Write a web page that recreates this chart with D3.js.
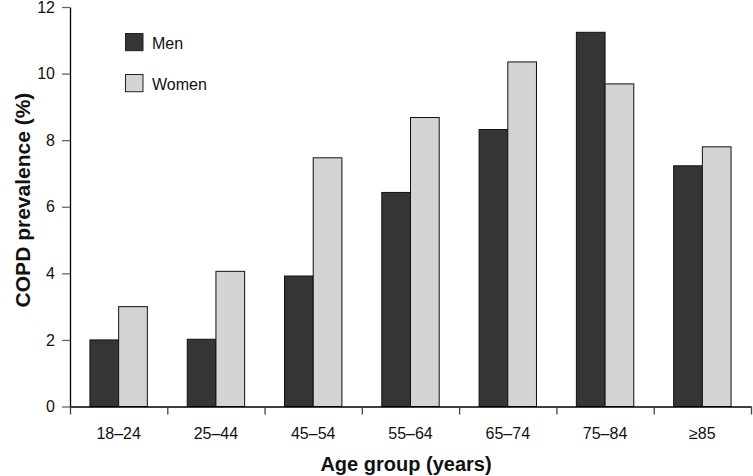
<!DOCTYPE html>
<html><head><meta charset="utf-8">
<script src="https://cdn.jsdelivr.net/npm/d3@7"></script>
<style>
html,body{margin:0;padding:0;background:#fff;}
svg text{font-family:"Liberation Sans",Arial,sans-serif;}
</style></head>
<body><svg id="c" width="753" height="476"></svg>
<script>
const categories = ["18–24","25–44","45–54","55–64","65–74","75–84","≥85"];
const series = ["Men","Women"];
const men = [2.0, 2.02, 3.92, 6.43, 8.32, 11.24, 7.23];
const women = [3.0, 4.06, 7.47, 8.68, 10.35, 9.69, 7.8];
const yTicks = [0,2,4,6,8,10,12];
const colors = {Men:"#353535", Women:"#d4d4d4"};

const svg = d3.select("#c");
const L = 70, R = 751, T = 7, B = 406.5;
const y = d3.scaleLinear().domain([0,12]).range([B,T]);
const x = d3.scaleBand().domain(categories).range([L,R]).padding(0);
const xs = d3.scaleBand().domain(series).range([0,x.bandwidth()]).paddingInner(0).paddingOuter(0.695);
const xEdge = d3.scaleLinear().domain([0,categories.length]).range([L,R]);

const data = categories.map((c,i)=>({cat:c, Men:men[i], Women:women[i]}));

// bars
const g = svg.append("g");
series.forEach(s=>{
  g.selectAll("rect."+s).data(data).enter().append("rect")
    .attr("x", d=>x(d.cat)+xs(s))
    .attr("y", d=>y(d[s]))
    .attr("width", xs.bandwidth())
    .attr("height", d=>y(0)-y(d[s]))
    .attr("fill", colors[s])
    .attr("stroke", "#111")
    .attr("stroke-width", 1);
});

// y axis
const ya = svg.append("g").attr("transform",`translate(${L},0)`)
  .call(d3.axisLeft(y).tickValues(yTicks).tickSize(8).tickSizeOuter(0).tickPadding(7));
ya.select(".domain").attr("stroke","#000").attr("stroke-width",1.3);
ya.selectAll(".tick line").attr("stroke","#666").attr("stroke-width",1.3);
ya.selectAll(".tick text").attr("font-size",16).attr("fill","#111");

// x axis (edges)
const xa = svg.append("g").attr("transform",`translate(0,${B})`)
  .call(d3.axisBottom(xEdge).tickValues(d3.range(categories.length+1)).tickFormat("").tickSize(8).tickSizeOuter(0));
xa.select(".domain").attr("stroke","#000").attr("stroke-width",1.3);
xa.selectAll(".tick line").attr("stroke","#444").attr("stroke-width",1.3);

// x labels
const xl = svg.append("g").attr("transform",`translate(0,${B})`)
  .call(d3.axisBottom(x).tickSize(0).tickPadding(21.5));
xl.select(".domain").remove();
xl.selectAll(".tick text").attr("font-size",16).attr("fill","#111");

// axis titles
svg.append("text").attr("x",406).attr("y",471)
  .attr("text-anchor","middle").attr("font-size",20).attr("font-weight","bold").attr("fill","#111")
  .text("Age group (years)");
svg.append("text").attr("transform",`translate(30,200) rotate(-90)`)
  .attr("text-anchor","middle").attr("font-size",21).attr("font-weight","bold").attr("fill","#111")
  .text("COPD prevalence (%)");

// legend
const leg = svg.append("g");
series.forEach((s,i)=>{
  const yy = 33.5 + i*41;
  leg.append("rect").attr("x",125.5).attr("y",yy).attr("width",17.5).attr("height",17.2)
    .attr("fill",colors[s]).attr("stroke","#222").attr("stroke-width",1);
  leg.append("text").attr("x",152).attr("y",yy+15).attr("font-size",16).attr("fill","#111").text(s);
});
</script></body></html>
